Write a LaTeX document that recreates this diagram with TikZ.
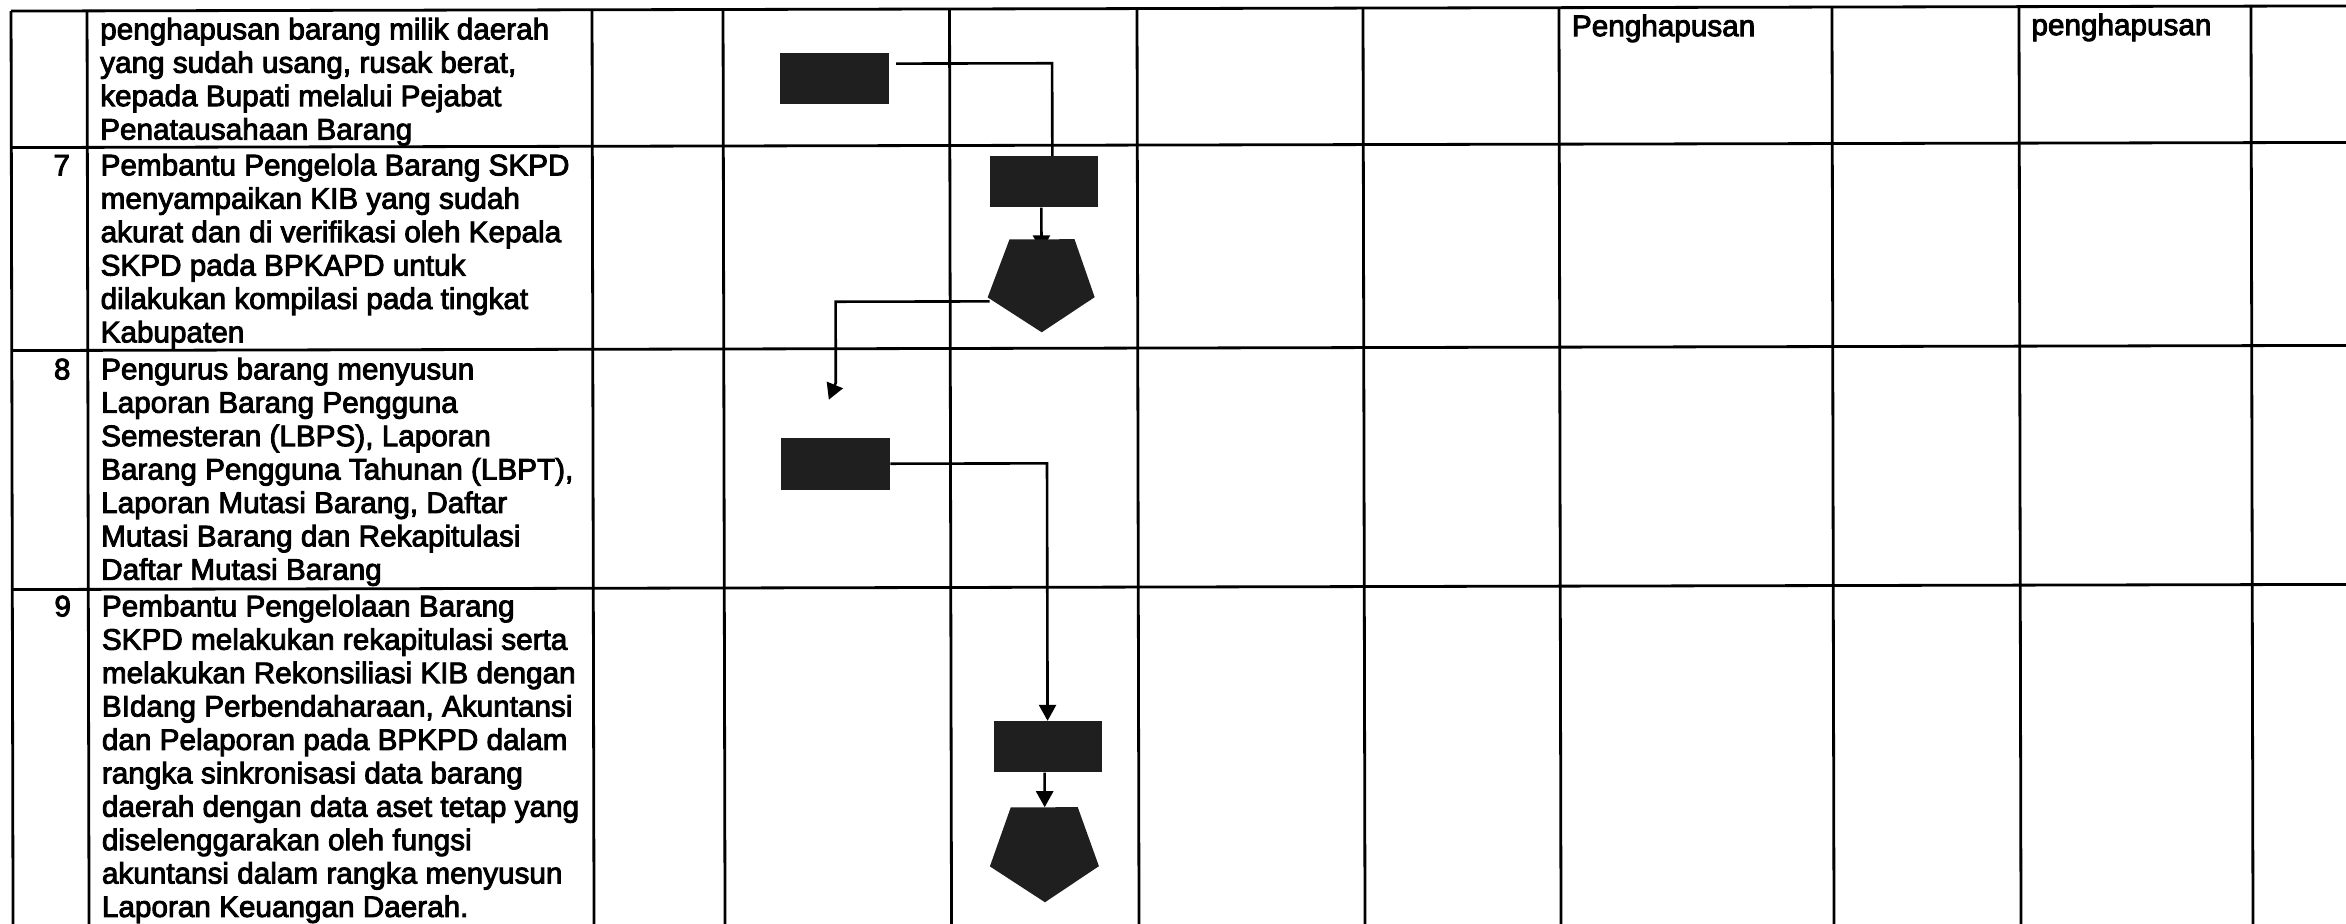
\documentclass[tikz,border=0pt]{standalone}
\usepackage{fontspec}
\setmainfont{Liberation Sans}
\newfontfamily\scanfont[FakeBold=3]{Liberation Sans}
\usetikzlibrary{arrows.meta}
\tikzset{
  tbl/.style={line width=1.4pt, black},
  conn/.style={line width=1.3pt, black},
  arr/.style={conn, -{Triangle[length=8pt,width=8.5pt]}},
  blk/.style={draw=none, fill=black!88, rectangle, inner sep=0pt},
  pent/.style={draw=none, fill=black!88},
  txt/.style={font=\scanfont\fontsize{14.85pt}{16.7pt}\selectfont, align=left, inner sep=0pt},
}
\begin{document}
\begin{tikzpicture}[x=0.5pt,y=-0.5pt]
\useasboundingbox (0,0) rectangle (2346,924);
\begin{scope}[rotate around={0.126:(1173,462)}]
% table grid
\foreach \yy in {8.5,145,348,587}
  \draw[tbl] (12,\yy) -- (2360,\yy);
\foreach \xx in {12,88,593,724,950.5,1138,1364,1560,1833,2020,2252}
  \draw[tbl] (\xx,8.5) -- (\xx,935);
% texts (anchor base = baseline of the last line)
\node[txt, anchor=base west] (t6) at (100.5,137.2) {penghapusan barang milik daerah\\yang sudah usang, rusak berat,\\kepada Bupati melalui Pejabat\\Penatausahaan Barang};
\node[txt, anchor=base east] (n7) at (71,173) {7};
\node[txt, anchor=base west] (t7) at (100.5,340) {Pembantu Pengelola Barang SKPD\\menyampaikan KIB yang sudah\\akurat dan di verifikasi oleh Kepala\\SKPD pada BPKAPD untuk\\dilakukan kompilasi pada tingkat\\Kabupaten};
\node[txt, anchor=base east] (n8) at (71,377) {8};
\node[txt, anchor=base west] (t8) at (100.5,577.4) {Pengurus barang menyusun\\Laporan Barang Pengguna\\Semesteran (LBPS), Laporan\\Barang Pengguna Tahunan (LBPT),\\Laporan Mutasi Barang, Daftar\\Mutasi Barang dan Rekapitulasi\\Daftar Mutasi Barang};
\node[txt, anchor=base east] (n9) at (71,614) {9};
\node[txt, anchor=base west] (t9) at (100.5,914.6) {Pembantu Pengelolaan Barang\\SKPD melakukan rekapitulasi serta\\melakukan Rekonsiliasi KIB dengan\\BIdang Perbendaharaan, Akuntansi\\dan Pelaporan pada BPKPD dalam\\rangka sinkronisasi data barang\\daerah dengan data aset tetap yang\\diselenggarakan oleh fungsi\\akuntansi dalam rangka menyusun\\Laporan Keuangan Daerah.};
\node[txt, anchor=base west] (h1) at (1572.5,37) {Penghapusan};
\node[txt, anchor=base west] (h2) at (2032,37) {penghapusan};
% flow shapes
\node[blk, minimum width=54.5pt, minimum height=25.5pt] (r1) at (835.5,77.5) {};
\node[blk, minimum width=54pt, minimum height=25.5pt] (r2) at (1045,181.5) {};
\node[blk, minimum width=54.5pt, minimum height=26pt] (r3) at (835.5,463) {};
\node[blk, minimum width=54pt, minimum height=25.5pt] (r4) at (1047,746.5) {};
\coordinate (p1n) at (1042,239);
\coordinate (p1in) at (1042,251);
\coordinate (p1w) at (990,301);
\coordinate (p2n) at (1044,807);
\coordinate (c1s) at (897,63);
\coordinate (c3b) at (836,382);
\coordinate (c3tip) at (829,399);
% connectors
\draw[conn] (c1s) -| ([xshift=4pt]r2.north);
\draw[arr] (p1n |- r2.south) -- (p1in);
\draw[arr] (p1w) -| (c3b) -- (c3tip);
\draw[arr] (r3.east) -| (r4.north);
\draw[arr] (p2n |- r4.south) -- (p2n);
% pentagons
\path[pent] (1010,239) -- (1075,239) -- (1095,297) -- (1042,332) -- (988,297) -- cycle;
\path[pent] (1010,807) -- (1077,807) -- (1098,866) -- (1044,902) -- (989,866) -- cycle;
\end{scope}
\end{tikzpicture}
\end{document}
